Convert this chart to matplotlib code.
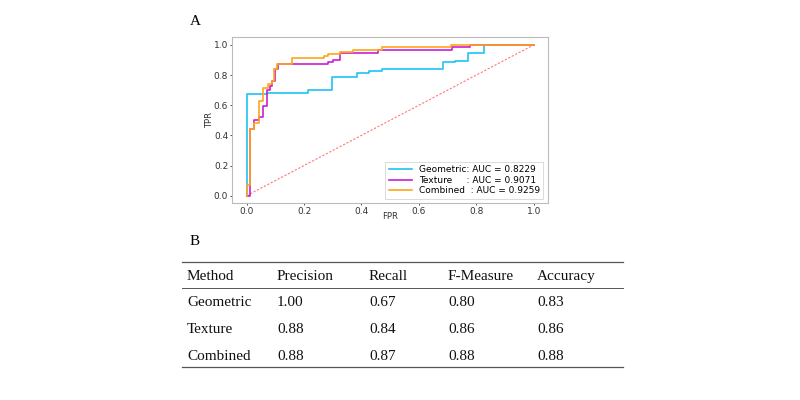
import matplotlib
matplotlib.use("Agg")
import matplotlib.pyplot as plt
from matplotlib.lines import Line2D

# ---- ROC data (step corners) ----
geo_fpr = [0, 0, 0.07, 0.07, 0.215, 0.215, 0.298, 0.298, 0.386, 0.386, 0.427, 0.427,
           0.47, 0.47, 0.685, 0.685, 0.726, 0.726, 0.77, 0.77, 0.828, 0.828, 1.0]
geo_tpr = [0, 0.673, 0.673, 0.68, 0.68, 0.70, 0.70, 0.785, 0.785, 0.816, 0.816, 0.83,
           0.83, 0.84, 0.84, 0.885, 0.885, 0.895, 0.895, 0.945, 0.945, 1.0, 1.0]

tex_fpr = [0, 0.0115, 0.0115, 0.026, 0.026, 0.044, 0.044, 0.058, 0.058, 0.072, 0.072,
           0.081, 0.081, 0.09, 0.09, 0.099, 0.099, 0.108, 0.108, 0.284, 0.284, 0.30,
           0.30, 0.325, 0.325, 0.457, 0.457, 0.714, 0.714, 0.778, 0.778, 1.0]
tex_tpr = [0, 0, 0.443, 0.443, 0.502, 0.502, 0.524, 0.524, 0.597, 0.597, 0.70,
           0.70, 0.728, 0.728, 0.76, 0.76, 0.839, 0.839, 0.872, 0.872, 0.885, 0.885,
           0.90, 0.90, 0.945, 0.945, 0.967, 0.967, 0.989, 0.989, 1.0, 1.0]

com_fpr = [0, 0, 0.0116, 0.0116, 0.026, 0.026, 0.044, 0.044, 0.057, 0.057, 0.074, 0.074,
           0.088, 0.088, 0.097, 0.097, 0.106, 0.106, 0.157, 0.157, 0.27, 0.27, 0.283,
           0.283, 0.327, 0.327, 0.37, 0.37, 0.47, 0.47, 0.712, 0.712, 1.0]
com_tpr = [0, 0.07, 0.07, 0.44, 0.44, 0.48, 0.48, 0.628, 0.628, 0.713, 0.713, 0.739,
           0.739, 0.76, 0.76, 0.84, 0.84, 0.872, 0.872, 0.912, 0.912, 0.927, 0.927,
           0.94, 0.94, 0.955, 0.955, 0.965, 0.965, 0.985, 0.985, 1.0, 1.0]

series_labels = ["Geometric: AUC = 0.8229", "Texture     : AUC = 0.9071",
                 "Combined  : AUC = 0.9259"]
series_colors = ["#1ec3f5", "#c81ed2", "#ffa51a"]

ticks = [0.0, 0.2, 0.4, 0.6, 0.8, 1.0]

# ---- table data ----
table_header = ["Method", "Precision", "Recall", "F-Measure", "Accuracy"]
table_rows = [
    ["Geometric", "1.00", "0.67", "0.80", "0.83"],
    ["Texture", "0.88", "0.84", "0.86", "0.86"],
    ["Combined", "0.88", "0.87", "0.88", "0.88"],
]

W, H = 800, 400
fig = plt.figure(figsize=(8, 4), dpi=100)
fig.patch.set_facecolor("white")

def fx(px):
    return px / W

def fy(py):
    return 1 - py / H

ax = fig.add_axes([fx(232.3), fy(203.2), (548 - 232.3) / W, (203.2 - 37.4) / H])
ax.plot([0, 1], [0, 1], color="#ff5555", lw=0.8, ls=(0, (2, 1.5)), alpha=0.8)
for xs, ys, lab, col in zip([geo_fpr, tex_fpr, com_fpr], [geo_tpr, tex_tpr, com_tpr],
                            series_labels, series_colors):
    ax.plot(xs, ys, color=col, lw=1.2, label=lab)
ax.set_xlim(-0.05, 1.05)
ax.set_ylim(-0.05, 1.05)
ax.set_xticks(ticks)
ax.set_yticks(ticks)
ax.tick_params(labelsize=6.5, length=1.5, width=0.6, colors="#333333", pad=1.5)
for s in ax.spines.values():
    s.set_color("#bbbbbb")
    s.set_linewidth(0.8)
ax.set_xlabel("FPR", fontsize=6, color="#333333", va="center")
ax.set_ylabel("TPR", fontsize=6, color="#333333", va="center")
ax.xaxis.set_label_coords(0.5, -0.081)
ax.yaxis.set_label_coords(-0.0706, 0.5)
leg = ax.legend(loc="lower right", fontsize=6.5, handlelength=2.5, borderpad=0.4,
                labelspacing=0.15, frameon=True, fancybox=False)
leg.get_frame().set_edgecolor("#cccccc")
leg.get_frame().set_linewidth(0.6)

serif = "Liberation Serif"
fig.text(fx(190), fy(25), "A", fontsize=11, family=serif, va="baseline", ha="left")
fig.text(fx(190), fy(245), "B", fontsize=11, family=serif, va="baseline", ha="left")

# table rules
for py, lw in [(261.7, 0.9), (288.3, 0.7), (366.7, 0.9)]:
    fig.add_artist(Line2D([fx(181.7), fx(623)], [fy(py), fy(py)], color="#555555",
                          lw=lw))

col_x = [187, 277, 369, 448, 537]
row_base = [280, 306, 333, 360]
for j, t in enumerate(table_header):
    fig.text(fx(col_x[j]), fy(row_base[0]), t, fontsize=11, family=serif,
             va="baseline", ha="left", color="#111111")
for i, row in enumerate(table_rows):
    for j, t in enumerate(row):
        fig.text(fx(col_x[j]), fy(row_base[i + 1]), t, fontsize=11, family=serif,
                 va="baseline", ha="left", color="#111111")

fig.savefig("out.png", dpi=100)
